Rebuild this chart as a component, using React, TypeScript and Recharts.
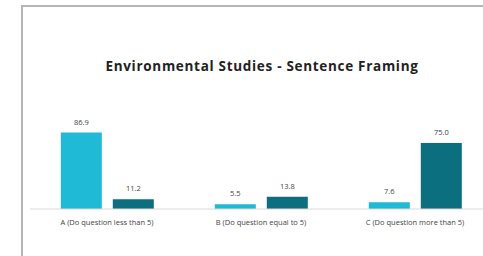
import React from 'react'
import { BarChart, Bar, XAxis, YAxis, LabelList } from 'recharts'

// Categories and the two series
const categories = [
  'A (Do question less than 5)',
  'B (Do question equal to 5)',
  'C (Do question more than 5)',
]
const seriesOne = [86.9, 5.5, 7.6]
const seriesTwo = [11.2, 13.8, 75.0]

const data = categories.map((name, i) => ({
  name,
  first: seriesOne[i],
  second: seriesTwo[i],
}))

const fmt = (v: any) => Number(v).toFixed(1)

export default function App() {
  return (
    <div
      style={{
        position: 'absolute',
        left: 0,
        top: 0,
        width: 483,
        height: 256,
        overflow: 'hidden',
        background: '#fff',
        fontFamily: '"Open Sans", sans-serif',
      }}
    >
      <div
        style={{
          position: 'absolute',
          left: 21,
          top: 5,
          width: 480,
          height: 260,
          borderTop: '2px solid #b5b5b5',
          borderLeft: '2px solid #b5b5b5',
        }}
      />
      <div
        style={{
          position: 'absolute',
          left: 22,
          top: 57,
          width: 480,
          textAlign: 'center',
          fontSize: 13.5,
          fontWeight: 700,
          color: '#222',
          letterSpacing: 0.7,
        }}
      >
        Environmental Studies - Sentence Framing
      </div>
      <div style={{ position: 'absolute', left: 22, top: 6 }}>
        <BarChart
          width={480}
          height={250}
          data={data}
          margin={{ top: 115, right: 10, left: 8, bottom: 17 }}
          barCategoryGap="20%"
          barGap={11}
        >
          <XAxis
            dataKey="name"
            height={30}
            tickLine={false}
            axisLine={{ stroke: '#d9d9d9' }}
            tick={{ fontSize: 7.5, fill: '#444' }}
            tickMargin={5}
            interval={0}
          />
          <YAxis hide domain={[0, 100]} />
          <Bar dataKey="first" fill="#1fbad6" isAnimationActive={false}>
            <LabelList dataKey="first" position="top" offset={8} formatter={fmt} style={{ fontSize: 7.5, fill: '#444' }} />
          </Bar>
          <Bar dataKey="second" fill="#0b6f7f" isAnimationActive={false}>
            <LabelList dataKey="second" position="top" offset={8} formatter={fmt} style={{ fontSize: 7.5, fill: '#444' }} />
          </Bar>
        </BarChart>
      </div>
    </div>
  )
}
